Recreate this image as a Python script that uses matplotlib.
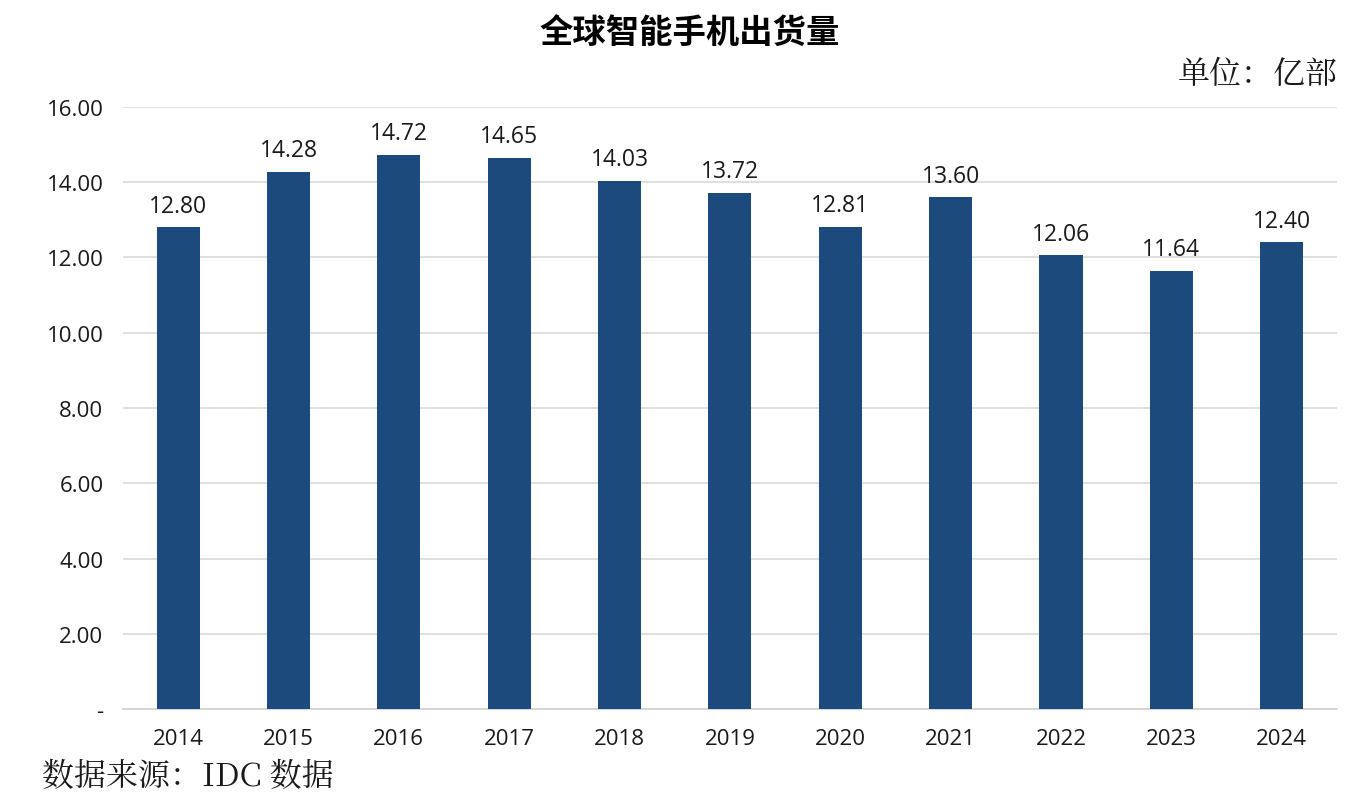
import matplotlib.pyplot as plt
from matplotlib.ticker import FuncFormatter

plt.rcParams['font.family'] = ['Noto Sans CJK SC', 'DejaVu Sans']

years = ['2014', '2015', '2016', '2017', '2018', '2019', '2020', '2021', '2022', '2023', '2024']
shipments = [12.80, 14.28, 14.72, 14.65, 14.03, 13.72, 12.81, 13.60, 12.06, 11.64, 12.40]

bar_color = '#1c4a7d'
text_color = '#1a1a1a'

fig = plt.figure(figsize=(13.6, 8.04), dpi=100)
ax = fig.add_axes([0.0904, 0.1169, 0.8926, 0.7488])

x = range(len(years))
bars = ax.bar(x, shipments, width=0.39, color=bar_color, zorder=3)
for xi, v in zip(x, shipments):
    ax.annotate('%.2f' % v, (xi, v), xytext=(0, 7), textcoords='offset points',
                ha='center', va='bottom', fontsize=16.5, color=text_color,
                family='Open Sans')

ax.set_xlim(-0.5, len(years) - 0.5)
ax.set_ylim(0, 16)
ax.set_yticks(range(0, 17, 2))
ax.yaxis.set_major_formatter(FuncFormatter(lambda v, p: '-' if v == 0 else '%.2f' % v))
ax.set_xticks(list(x))
ax.set_xticklabels(years)
for lab in ax.get_xticklabels() + ax.get_yticklabels():
    lab.set_family('Open Sans')
    lab.set_fontsize(16)
    lab.set_color(text_color)

ax.grid(axis='y', color='#d9d9d9', linewidth=1.2, zorder=0)
for s in ['top', 'right', 'left']:
    ax.spines[s].set_visible(False)
ax.spines['bottom'].set_color('#d0d0d0')
ax.spines['bottom'].set_linewidth(1.2)
ax.tick_params(axis='x', length=0, pad=14)
ax.tick_params(axis='y', length=0, pad=14)

fig.text(0.507, 0.958, '全球智能手机出货量', ha='center', va='center',
         fontsize=24, fontweight='bold', color='black')
fig.text(0.984, 0.907, '单位：亿部', ha='right', va='center',
         fontsize=23, color=text_color, family=['Noto Serif CJK SC', 'Noto Sans CJK SC'])
fig.text(0.031, 0.034, '数据来源：IDC 数据', ha='left', va='center',
         fontsize=23, color=text_color, family=['Noto Serif CJK SC', 'Noto Sans CJK SC'])

fig.savefig('out.png', dpi=100, facecolor='white')
